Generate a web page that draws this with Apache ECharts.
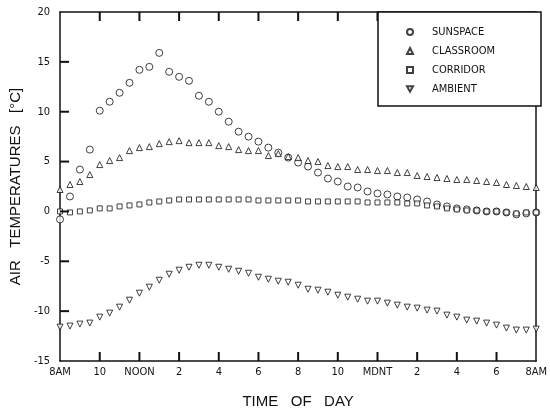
<!DOCTYPE html>
<html>
<head>
<meta charset="utf-8">
<script src="https://cdn.jsdelivr.net/npm/echarts@6/dist/echarts.min.js"></script>
<style>
  html, body { margin: 0; padding: 0; background: #fff; }
  #main { width: 550px; height: 414px; }
</style>
</head>
<body>
<div id="main"></div>
<script>
// readings every half hour, 8AM to 8AM next day
const sunspace = [-0.8, 1.5, 4.2, 6.2, 10.1, 11.0, 11.9, 12.9, 14.2, 14.5, 15.9, 14.0, 13.5, 13.1, 11.6, 11.0,
    10.0, 9.0, 8.0, 7.5, 7.0, 6.4, 5.9, 5.4, 4.9, 4.5, 3.9, 3.3, 3.0, 2.5, 2.4, 2.0,
    1.8, 1.7, 1.5, 1.4, 1.2, 1.0, 0.7, 0.5, 0.3, 0.2, 0.1, 0.0, 0.0, -0.1, -0.3, -0.2, -0.1];
const classroom = [2.2, 2.7, 3.0, 3.7, 4.7, 5.1, 5.4, 6.1, 6.4, 6.5, 6.8, 7.0, 7.1, 6.9, 6.9, 6.9,
    6.6, 6.5, 6.2, 6.1, 6.1, 5.6, 5.8, 5.5, 5.4, 5.1, 5.0, 4.6, 4.5, 4.5, 4.2, 4.2,
    4.1, 4.1, 3.9, 3.9, 3.6, 3.5, 3.4, 3.3, 3.2, 3.2, 3.1, 3.0, 2.9, 2.7, 2.6, 2.5, 2.4];
const corridor = [0.0, -0.1, 0.0, 0.1, 0.3, 0.3, 0.5, 0.6, 0.7, 0.9, 1.0, 1.1, 1.2, 1.2, 1.2, 1.2,
    1.2, 1.2, 1.2, 1.2, 1.1, 1.1, 1.1, 1.1, 1.1, 1.0, 1.0, 1.0, 1.0, 1.0, 1.0, 0.9,
    0.9, 0.9, 0.9, 0.8, 0.8, 0.6, 0.5, 0.3, 0.2, 0.1, 0.1, 0.0, 0.0, -0.1, -0.2, -0.1, -0.1];
const ambient = [-11.6, -11.5, -11.3, -11.2, -10.6, -10.2, -9.6, -8.9, -8.2, -7.6, -6.9, -6.3, -5.9, -5.6, -5.4, -5.4,
    -5.6, -5.8, -6.0, -6.2, -6.6, -6.8, -7.0, -7.1, -7.4, -7.8, -7.9, -8.1, -8.4, -8.6, -8.8, -9.0,
    -9.0, -9.2, -9.4, -9.6, -9.7, -9.9, -10.0, -10.4, -10.6, -10.9, -11.0, -11.2, -11.4, -11.7, -11.9, -11.9, -11.8];
const timeLabels = ["8AM", "10", "NOON", "2", "4", "6", "8", "10", "MDNT", "2", "4", "6", "8AM"];
const xTicks = [2, 4, 6, 8, 10, 12, 14, 16, 18, 20, 22];
const yTicks = [-10, -5, 0, 5, 10, 15];
const names = ["SUNSPACE", "CLASSROOM", "CORRIDOR", "AMBIENT"];

const chart = echarts.init(document.querySelector("#main"));
const font = "'Liberation Sans Narrow', 'DejaVu Sans Condensed', 'Liberation Sans', sans-serif";
const invTriangle = "path://M0,0 L10,0 L5,9 Z";

// hours after 8AM
const pts = (arr) => arr.map((v, i) => [i * 0.5, v]);

function series(name, data, symbol, size) {
    return {
        name: name,
        type: "scatter",
        data: pts(data),
        symbol: symbol,
        symbolSize: size,
        itemStyle: { color: "#fff", borderColor: "#111", borderWidth: 1 },
        z: 3,
    };
}

// inward tick marks: [x, y, dx, dy] -> short line from the axis point into the plot
function tickMarks(data) {
    return {
        type: "custom",
        data: data,
        silent: true,
        clip: false,
        z: 4,
        renderItem: (params, api) => {
            const p = api.coord([api.value(0), api.value(1)]);
            return {
                type: "line",
                shape: { x1: p[0], y1: p[1], x2: p[0] + api.value(2), y2: p[1] + api.value(3) },
                style: { stroke: "#111", lineWidth: 2 },
            };
        },
    };
}

function axisLine() {
    return { show: true, onZero: false, lineStyle: { color: "#111", width: 1.5 } };
}

let option = {
    animation: false,
    backgroundColor: "#fff",
    grid: { left: 58, right: 9, top: 12, bottom: 49 },
    xAxis: [
        {
            type: "value", min: 0, max: 24, interval: 2,
            axisLine: axisLine(),
            axisTick: { show: false },
            splitLine: { show: false },
            axisLabel: {
                margin: 6, color: "#111", fontSize: 11, fontFamily: font,
                formatter: (v) => timeLabels[Math.round(v / 2)],
            },
            name: "TIME   OF   DAY", nameLocation: "middle", nameGap: 33,
            nameTextStyle: { color: "#111", fontSize: 15, fontFamily: "'Liberation Sans', sans-serif" },
        },
        {
            type: "value", position: "top", min: 0, max: 24, interval: 2,
            axisLine: axisLine(),
            axisTick: { show: false },
            axisLabel: { show: false },
            splitLine: { show: false },
        },
    ],
    yAxis: [
        {
            type: "value", min: -15, max: 20, interval: 5,
            axisLine: axisLine(),
            axisTick: { show: false },
            splitLine: { show: false },
            axisLabel: { margin: 10, color: "#111", fontSize: 11, fontFamily: font },
            name: "AIR   TEMPERATURES   [°C]", nameLocation: "middle", nameGap: 36,
            nameTextStyle: { color: "#111", fontSize: 15, fontFamily: "'Liberation Sans', sans-serif" },
        },
        {
            type: "value", position: "right", min: -15, max: 20, interval: 5,
            axisLine: axisLine(),
            axisTick: { show: false },
            axisLabel: { show: false },
            splitLine: { show: false },
        },
    ],
    graphic: [
        {
            type: "rect", z: 5,
            shape: { x: 378, y: 12, width: 163, height: 94 },
            style: { fill: "#fff", stroke: "#111", lineWidth: 1.5 },
        },
    ],
    legend: {
        orient: "vertical", left: 401, top: 21, z: 6,
        itemWidth: 6, itemHeight: 6, itemGap: 7,
        data: names,
        textStyle: { color: "#111", fontSize: 11, lineHeight: 12, fontFamily: font, padding: [0, 0, 0, 14] },
    },
    series: [
        tickMarks(xTicks.map((x) => [x, -15, 0, -9])),
        tickMarks(xTicks.map((x) => [x, 20, 0, 9])),
        tickMarks(yTicks.map((y) => [0, y, 9, 0])),
        series(names[0], sunspace, "circle", 7),
        series(names[1], classroom, "triangle", 6),
        series(names[2], corridor, "rect", 5),
        series(names[3], ambient, invTriangle, 6),
    ],
};
chart.setOption(option);
</script>
</body>
</html>
